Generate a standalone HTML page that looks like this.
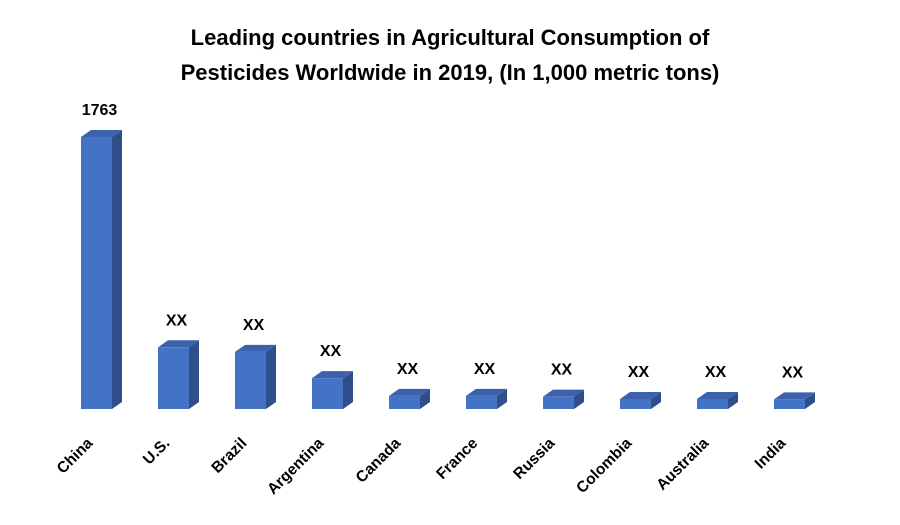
<!DOCTYPE html>
<html><head><meta charset="utf-8"><style>
html,body{margin:0;padding:0;background:#fff;}
svg{display:block;font-family:"Liberation Sans",sans-serif;}
</style></head><body>
<svg id="chart" width="900" height="525">
<text x="450" y="45" text-anchor="middle" font-size="22" font-weight="bold" fill="#000">Leading countries in Agricultural Consumption of</text>
<text x="450" y="80" text-anchor="middle" font-size="22" font-weight="bold" fill="#000">Pesticides Worldwide in 2019, (In 1,000 metric tons)</text>
<g id="bars"></g>
</svg>
<script>
const categories=["China","U.S.","Brazil","Argentina","Canada","France","Russia","Colombia","Australia","India"];
const values=[1763,400,370,200,85,85,80,65,65,62];
const valueLabels=["1763","XX","XX","XX","XX","XX","XX","XX","XX","XX"];
const baseY=409, maxPx=272, maxVal=1763;
function y(v){return baseY - v/maxVal*maxPx;}
function x(i){return 81 + i*77;}
const W=31, dx=10, dy=7;
const g=document.getElementById('bars');
const NS="http://www.w3.org/2000/svg";
function mk(tag,attrs){const e=document.createElementNS(NS,tag);for(const k in attrs)e.setAttribute(k,attrs[k]);g.appendChild(e);return e;}
categories.forEach((c,i)=>{
  const x0=x(i), yt=y(values[i]);
  const side=mk('polygon',{points:`${x0+W},${yt} ${x0+W+dx},${yt-dy} ${x0+W+dx},${baseY-dy} ${x0+W},${baseY}`,fill:'#2f4f8a'});
  
  
  const top=mk('polygon',{points:`${x0},${yt} ${x0+dx},${yt-dy} ${x0+W+dx},${yt-dy} ${x0+W},${yt}`,fill:'#3c62ad'});
  
  
  const front=mk('rect',{x:x0,y:yt,width:W,height:baseY-yt,fill:'#4472c4'});
  
  
  const vl=mk('text',{x:x0+W/2+3,y:yt-22,'text-anchor':'middle','font-size':'16','font-weight':'bold',fill:'#000'});
  vl.textContent=valueLabels[i];
  
  
  const cx=x0+W/2-3, cy=444;
  const cl=mk('text',{x:cx,y:cy,'text-anchor':'end','font-size':'15.5','font-weight':'bold',fill:'#000',transform:`rotate(-45 ${cx} ${cy})`});
  cl.textContent=c;
  
  
});
</script>
</body></html>
